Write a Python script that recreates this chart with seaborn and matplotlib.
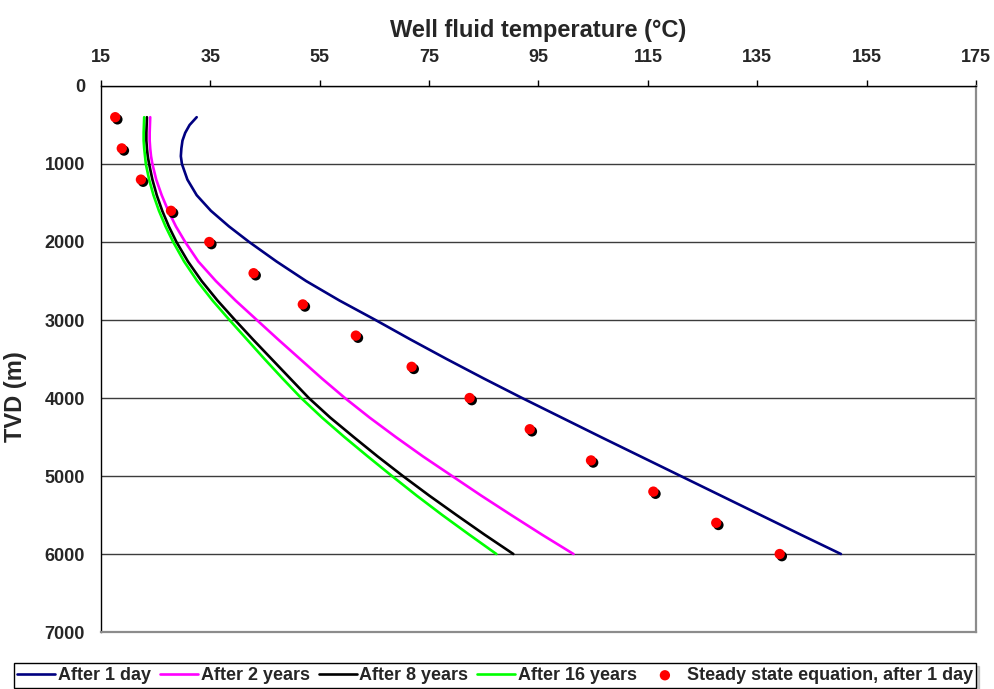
import numpy as np
import pandas as pd
import matplotlib
matplotlib.use("Agg")
import matplotlib.pyplot as plt
import matplotlib.transforms as mtransforms
import seaborn as sns

# Depth grid (m) for the simulated profiles
depth_lines = [400, 500, 600, 700, 800, 900, 1000, 1200, 1400, 1600, 1800, 2000,
               2250, 2500, 2750, 3000, 3250, 3500, 3750, 4000, 4250, 4500, 4750,
               5000, 5250, 5500, 5750, 6000]

# Well fluid temperature (degC) at each depth
temp_1day = [32.5, 31.2, 30.4, 29.9, 29.7, 29.6, 29.8, 30.8, 32.5, 35.1, 38.4,
             42.1, 47.1, 52.5, 58.6, 65.2, 71.6, 78.2, 85.0, 92.0, 99.2, 106.4,
             113.7, 121.0, 128.3, 135.6, 142.9, 150.3]
temp_2yr = [24.0, 23.95, 23.9, 23.9, 24.0, 24.15, 24.4, 25.1, 26.1, 27.3, 28.7,
            30.4, 32.8, 36.0, 39.6, 43.5, 47.4, 51.4, 55.4, 59.6, 64.1, 68.9,
            73.9, 79.2, 84.5, 90.0, 95.6, 101.4]
temp_8yr = [23.4, 23.35, 23.3, 23.3, 23.4, 23.55, 23.8, 24.4, 25.2, 26.2, 27.4,
            28.8, 30.9, 33.4, 36.3, 39.5, 42.8, 46.2, 49.6, 53.0, 56.9, 61.2,
            65.6, 70.2, 75.0, 80.0, 85.1, 90.4]
temp_16yr = [22.9, 22.85, 22.8, 22.8, 22.9, 23.05, 23.2, 23.8, 24.6, 25.6, 26.8,
             28.2, 30.2, 32.6, 35.4, 38.5, 41.7, 44.9, 48.2, 51.6, 55.4, 59.5,
             63.8, 68.2, 72.7, 77.4, 82.3, 87.3]

series_names = ["After 1 day", "After 2 years", "After 8 years", "After 16 years"]
series_colors = ["#000080", "#FF00FF", "#000000", "#00FF00"]

# Steady state equation, after 1 day
depth_pts = [400, 800, 1200, 1600, 2000, 2400, 2800, 3200, 3600, 4000, 4400,
             4800, 5200, 5600, 6000]
temp_pts = [17.6, 18.8, 22.3, 27.8, 34.8, 42.9, 51.9, 61.6, 71.8, 82.4, 93.4,
            104.6, 116.0, 127.5, 139.1]
steady_label = "Steady state equation, after 1 day"

lines_df = pd.concat([
    pd.DataFrame({"TVD": depth_lines, "Temp": t, "Series": name})
    for name, t in zip(series_names, [temp_1day, temp_2yr, temp_8yr, temp_16yr])
], ignore_index=True)
pts_df = pd.DataFrame({"TVD": depth_pts, "Temp": temp_pts, "Series": steady_label})

sns.set_theme(style="white")
plt.rcParams["font.family"] = ["Liberation Sans", "DejaVu Sans"]
plt.rcParams["font.weight"] = "bold"

fig = plt.figure(figsize=(9.94, 6.89), dpi=100)
ax = fig.add_axes([0.1016, 0.0827, 0.8803, 0.7925])

sns.lineplot(data=lines_df, x="Temp", y="TVD", hue="Series",
             palette=dict(zip(series_names, series_colors)),
             hue_order=series_names, estimator=None, sort=False,
             linewidth=1.9, ax=ax)

# Drop shadow under the steady-state dots
shadow = mtransforms.offset_copy(ax.transData, fig=fig, x=2.2, y=-2.2, units="dots")
ax.scatter(pts_df["Temp"], pts_df["TVD"], s=55, color="black",
           edgecolor="none", transform=shadow, zorder=4)
sns.scatterplot(data=pts_df, x="Temp", y="TVD", color="#FF0000", s=55,
                edgecolor="none", label=steady_label, zorder=5, ax=ax)

ax.set_xlim(15, 175)
ax.set_ylim(7000, 0)
ax.set_xticks(np.arange(15, 176, 20))
ax.set_yticks(np.arange(0, 7001, 1000))
ax.xaxis.tick_top()
ax.xaxis.set_label_position("top")
ax.tick_params(axis="both", which="both", direction="out", length=4.5, width=1,
               color="black", labelsize=13)
ax.tick_params(axis="x", pad=10)
ax.tick_params(axis="y", pad=7)
for lab in ax.get_xticklabels() + ax.get_yticklabels():
    lab.set_fontweight("bold")

ax.set_xlabel("Well fluid temperature (\u00b0C)", fontsize=17, fontweight="bold")
ax.set_ylabel("TVD (m)", fontsize=17, fontweight="bold")
ax.xaxis.set_label_coords(0.5, 1.09)
ax.yaxis.set_label_coords(-0.0846, 0.432)

ax.yaxis.grid(True, color="#3c3c3c", linewidth=1.0)
ax.xaxis.grid(False)
ax.set_axisbelow(True)

for side in ["left", "top"]:
    ax.spines[side].set_color("black")
    ax.spines[side].set_linewidth(1.0)
for side in ["right", "bottom"]:
    ax.spines[side].set_color("#8c8c8c")
    ax.spines[side].set_linewidth(1.6)

handles, labels = ax.get_legend_handles_labels()
ax.get_legend().remove()
leg = fig.legend(handles, labels, loc="lower center", ncol=5,
                 bbox_to_anchor=(0.498, 0.002), frameon=True, fancybox=False,
                 shadow={"color": "#9a9a9a", "ox": 2, "oy": -2},
                 edgecolor="black", handlelength=2.1,
                 handletextpad=0.15, columnspacing=0.5, borderpad=0.2,
                 borderaxespad=0.0,
                 prop={"weight": "bold", "size": 13})
leg.get_frame().set_linewidth(1.0)

fig.savefig("out.png", dpi=100, facecolor="white")
